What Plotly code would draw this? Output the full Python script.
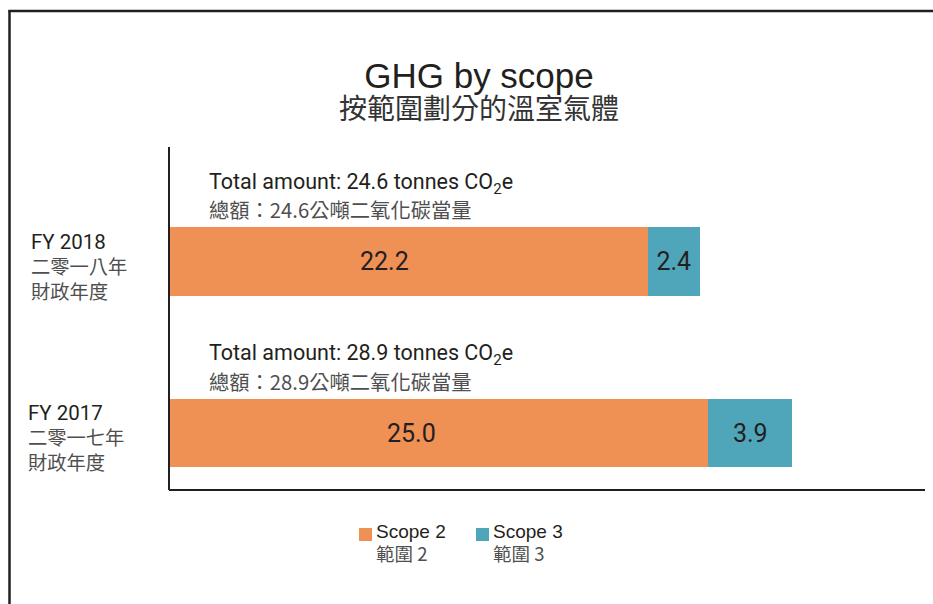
import plotly.graph_objects as go

# ---- data ----
years = ["FY 2017", "FY 2018"]
years_zh_1 = ["二零一七年", "二零一八年"]
years_zh_2 = ["財政年度", "財政年度"]
scope2 = [25.0, 22.2]
scope3 = [3.9, 2.4]
totals = [28.9, 24.6]
series_names = ["Scope 2", "Scope 3"]
series_names_zh = ["範圍 2", "範圍 3"]
colors = ["#EF9055", "#4FA6BA"]
title_en = "GHG by scope"
title_zh = "按範圍劃分的溫室氣體"

W, H = 933, 604
L, R, T, B = 169, 8, 147, 114
pw, ph = W - L - R, H - T - B


def px(x):
    return (x - L) / pw


def py(y):
    return (H - B - y) / ph


TXT = "#231F20"
GRAY = "#4F4F4F"
FONT = "Roboto, Liberation Sans, sans-serif"
HELV = "Liberation Sans, Arial, sans-serif"
CJK = "Noto Sans CJK TC, sans-serif"

ypos = list(range(len(years)))

fig = go.Figure()
fig.add_trace(go.Bar(
    y=ypos, x=scope2, orientation="h", marker=dict(color=colors[0], line=dict(width=0)),
    width=0.40, name=series_names[0], showlegend=False, hoverinfo="skip"))
fig.add_trace(go.Bar(
    y=ypos, x=scope3, orientation="h", marker=dict(color=colors[1], line=dict(width=0)),
    width=0.40, text=[f"{v:.1f}" for v in scope3], textposition="inside",
    insidetextanchor="middle", textfont=dict(size=25, color=TXT, family=FONT),
    name=series_names[1], showlegend=False, hoverinfo="skip"))

annotations = []
# scope 2 value labels (slightly left of bar centre, as in the reference)
for i, v in enumerate(scope2):
    annotations.append(dict(x=v * 0.45, y=i, xref="x", yref="y", xanchor="center", yanchor="middle",
                            text=f"{v:.1f}", showarrow=False,
                            font=dict(size=25, color=TXT, family=FONT)))

# totals above bars
for i, t in enumerate(totals):
    annotations.append(dict(
        x=0, y=i + 0.458, xref="x", yref="y", xanchor="left", yanchor="middle", xshift=38,
        text=f"Total amount: {t:.1f} tonnes CO<sub>2</sub>e", showarrow=False, align="left",
        font=dict(size=21.5, color=TXT, family=FONT)))
    annotations.append(dict(
        x=0, y=i + 0.304, xref="x", yref="y", xanchor="left", yanchor="middle", xshift=38,
        text=f"總額：{t:.1f}公噸二氧化碳當量", showarrow=False, align="left",
        font=dict(size=20.3, color=GRAY, family=CJK)))

# category labels (one block per year: English line + two Chinese lines)
for i in ypos:
    lx = px(26 if i == 0 else 29)
    txt = (f"<span style='font-family:Roboto, sans-serif;font-size:20.5px;color:{TXT}'>{years[i]}</span>"
           f"<br>{years_zh_1[i]}<br>{years_zh_2[i]}")
    annotations.append(dict(x=lx, y=i, xref="paper", yref="y", xanchor="left", yanchor="middle",
                            yshift=-5.5, text=txt, showarrow=False, align="left",
                            font=dict(size=19.3, color=GRAY, family=CJK)))

# title block
title_txt = (f"<span style='font-family:Liberation Sans, Arial, sans-serif;font-size:35px;color:{TXT}'>{title_en}</span>"
             f"<br><span style='font-size:28px'>{title_zh}</span>")
annotations.append(dict(x=px(479), y=py(92), xref="paper", yref="paper", xanchor="center", yanchor="middle",
                        text=title_txt, showarrow=False, align="center",
                        font=dict(size=24.2, color="#333333", family=CJK)))

shapes = []
# legend
leg_x = [359, 476]
for j, (nm, nz, c) in enumerate(zip(series_names, series_names_zh, colors)):
    shapes.append(dict(type="rect", xref="paper", yref="paper",
                       x0=px(leg_x[j]), x1=px(leg_x[j] + 13), y0=py(541), y1=py(528),
                       fillcolor=c, line=dict(width=0)))
    annotations.append(dict(x=px(leg_x[j] + 15), y=py(531), xref="paper", yref="paper",
                            xanchor="left", yanchor="middle", text=nm, showarrow=False,
                            font=dict(size=19, color=TXT, family=HELV)))
    annotations.append(dict(x=px(leg_x[j] + 15), y=py(553), xref="paper", yref="paper",
                            xanchor="left", yanchor="middle", text=nz, showarrow=False,
                            font=dict(size=18.5, color=GRAY, family=CJK)))

# frame
shapes.append(dict(type="line", xref="paper", yref="paper", x0=px(9.5), x1=px(9.5),
                   y0=py(10), y1=py(610), line=dict(color="#231F20", width=2.5)))
shapes.append(dict(type="line", xref="paper", yref="paper", x0=px(8.5), x1=px(940),
                   y0=py(11), y1=py(11), line=dict(color="#231F20", width=2.5)))
# axis lines
shapes.append(dict(type="line", xref="paper", yref="paper", x0=0, x1=0,
                   y0=0, y1=1, line=dict(color="#231F20", width=2)))
shapes.append(dict(type="line", xref="paper", yref="paper", x0=0, x1=1,
                   y0=0, y1=0, line=dict(color="#231F20", width=2)))

fig.update_layout(
    width=W, height=H, barmode="stack",
    margin=dict(l=L, r=R, t=T, b=B),
    paper_bgcolor="white", plot_bgcolor="white",
    xaxis=dict(range=[0, 35.05], showgrid=False, zeroline=False, showticklabels=False, ticks="",
               showline=False, fixedrange=True),
    yaxis=dict(range=[-0.332, 1.668], showgrid=False, zeroline=False, showticklabels=False, ticks="",
               showline=False, fixedrange=True),
    annotations=annotations, shapes=shapes, showlegend=False,
    uniformtext=dict(mode=False),
)

fig.write_html("out.html", config={"displayModeBar": False},
               post_script="document.body.style.margin='0px';")
